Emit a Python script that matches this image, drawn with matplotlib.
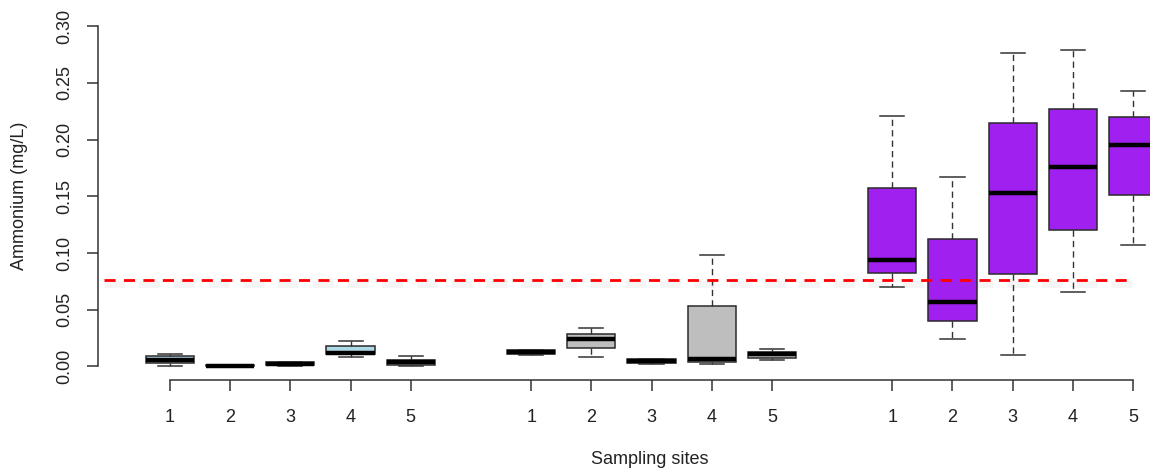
import matplotlib
matplotlib.use("Agg")
import matplotlib.pyplot as plt

plt.rcParams['font.family'] = ['Liberation Sans', 'DejaVu Sans']

# Data (mg/L): whisker low, Q1, median, Q3, whisker high
positions = [1, 2, 3, 4, 5, 7, 8, 9, 10, 11, 13, 14, 15, 16, 17]
site_labels = ["1", "2", "3", "4", "5"] * 3
whislo = [0.0003, 0.0000, 0.0002, 0.0082, 0.0000,
          0.0097, 0.0085, 0.0023, 0.0023, 0.0053,
          0.0697, 0.0244, 0.0100, 0.0656, 0.1071]
q1 = [0.0032, 0.0000, 0.0010, 0.0105, 0.0009,
      0.0112, 0.0159, 0.0029, 0.0041, 0.0071,
      0.0823, 0.0403, 0.0815, 0.1203, 0.1509]
med = [0.0059, 0.0003, 0.0020, 0.0115, 0.0038,
       0.0126, 0.0241, 0.0044, 0.0062, 0.0109,
       0.0941, 0.0571, 0.1532, 0.1756, 0.1953]
q3 = [0.0088, 0.0010, 0.0035, 0.0176, 0.0056,
      0.0141, 0.0285, 0.0068, 0.0529, 0.0129,
      0.1573, 0.1120, 0.2144, 0.2271, 0.2197]
whishi = [0.0106, 0.0010, 0.0035, 0.0223, 0.0088,
          0.0141, 0.0338, 0.0068, 0.0982, 0.0150,
          0.2206, 0.1670, 0.2765, 0.2788, 0.2427]
group_colors = ["#ADD8E6", "#BEBEBE", "#A020F0"]
threshold = 0.0765
yticks = [0.00, 0.05, 0.10, 0.15, 0.20, 0.25, 0.30]

W, H = 1150, 475
fig = plt.figure(figsize=(W / 100, H / 100), dpi=100)
left_px, right_px, bottom_px, top_px = 98, 1201, 380, 12.5
ax = fig.add_axes([left_px / W, 1 - bottom_px / H,
                   (right_px - left_px) / W, (bottom_px - top_px) / H])

stats = []
for i in range(len(positions)):
    stats.append(dict(whislo=whislo[i], q1=q1[i], med=med[i], q3=q3[i],
                      whishi=whishi[i], fliers=[]))

edge = "#2a2a2a"
bp = ax.bxp(stats, positions=positions, widths=0.8, capwidths=0.4,
            patch_artist=True, showfliers=False,
            boxprops=dict(edgecolor=edge, linewidth=1.1),
            medianprops=dict(color="black", linewidth=3.2, solid_capstyle="butt"),
            whiskerprops=dict(color="#333333", linewidth=1.0, linestyle=(0, (4.5, 3))),
            capprops=dict(color="#333333", linewidth=1.1))
for i, patch in enumerate(bp['boxes']):
    patch.set_facecolor(group_colors[i // 5])

# threshold line with soft shadow
ax.plot([-0.1, 17], [threshold - 0.004, threshold - 0.004], color="#b0b0b0",
        linewidth=5, alpha=0.12, linestyle=(0, (3, 2)), zorder=1)
ax.plot([-0.1, 17], [threshold, threshold], color="#ff0000", linewidth=2.0,
        linestyle=(0, (4, 3)), zorder=5)

ax.set_xlim(-0.196, 1 + (right_px - 170) / 60.19)
ax.set_ylim(-0.012, 0.312)

for s in ["top", "right"]:
    ax.spines[s].set_visible(False)
ax.spines["left"].set_bounds(0, 0.30)
ax.spines["bottom"].set_bounds(1, 17)
for s in ["left", "bottom"]:
    ax.spines[s].set_color("#333333")
    ax.spines[s].set_linewidth(1.1)

ax.set_xticks(positions)
ax.set_xticklabels(site_labels)
ax.set_yticks(yticks)
ax.set_yticklabels([f"{v:.2f}" for v in yticks], rotation=90, va="center")
ax.tick_params(axis="both", length=8, width=1.1, color="#333333",
               labelsize=13, labelcolor="#222222")
ax.tick_params(axis="x", pad=13)
ax.tick_params(axis="y", pad=10)

fig.text(649.5 / W, 1 - 460 / H, "Sampling sites", ha="center", va="center",
         fontsize=13, color="#222222")
fig.text(20 / W, 1 - 196 / H, "Ammonium (mg/L)", ha="center", va="center",
         rotation=90, fontsize=13, color="#222222")

fig.savefig("out.png", dpi=100)
